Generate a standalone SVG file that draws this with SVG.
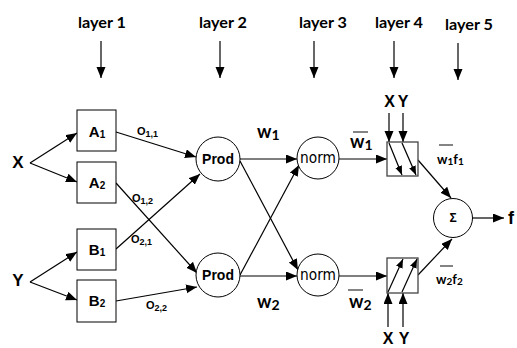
<svg xmlns="http://www.w3.org/2000/svg" width="517" height="348" viewBox="0 0 517 348">
<defs>
<marker id="ah" markerUnits="userSpaceOnUse" markerWidth="12" markerHeight="10" refX="11" refY="4.5" orient="auto">
<path d="M0,0 L11,4.5 L0,9 z" fill="#000"/>
</marker>
<marker id="ahs" markerUnits="userSpaceOnUse" markerWidth="10" markerHeight="9" refX="9" refY="3.5" orient="auto">
<path d="M0,0 L9,3.5 L0,7 z" fill="#000"/>
</marker>
</defs>
<style>
.ln{stroke:#000;stroke-width:1.2;fill:none;marker-end:url(#ah)}
.lns{stroke:#000;stroke-width:1.2;fill:none;marker-end:url(#ahs)}
.box{fill:#fff;stroke:#000;stroke-width:1}
.box4{fill:#fff;stroke:#444;stroke-width:1.3}
.cir{fill:#fff;stroke:#000;stroke-width:1}
.lay{font-family:Lato,"Liberation Sans",sans-serif;font-weight:bold;font-size:16px;fill:#000}
.arial{font-family:"Liberation Sans",Arial,sans-serif;font-weight:bold;fill:#000}
.cal{font-family:Lato,"Liberation Sans",sans-serif;font-weight:bold;fill:#000}
.ovl{stroke:#333;stroke-width:1.2}
</style>
<rect width="517" height="348" fill="#fff"/>

<g id="layers">
<text class="lay" x="78" y="28" textLength="48" lengthAdjust="spacingAndGlyphs">layer 1</text>
<text class="lay" x="199" y="28" textLength="48" lengthAdjust="spacingAndGlyphs">layer 2</text>
<text class="lay" x="299" y="28" textLength="48" lengthAdjust="spacingAndGlyphs">layer 3</text>
<text class="lay" x="375" y="28" textLength="48" lengthAdjust="spacingAndGlyphs">layer 4</text>
<text class="lay" x="445" y="30" textLength="48" lengthAdjust="spacingAndGlyphs">layer 5</text>
<line class="ln" x1="101" y1="41" x2="101" y2="78"/>
<line class="ln" x1="220" y1="41" x2="220" y2="78"/>
<line class="ln" x1="314" y1="41" x2="314" y2="78"/>
<line class="ln" x1="394" y1="41" x2="394" y2="78"/>
<line class="ln" x1="458" y1="43" x2="458" y2="80"/>
</g>

<g id="connectors">
<line class="ln" x1="30" y1="163" x2="77" y2="133"/>
<line class="ln" x1="30" y1="163" x2="77" y2="182"/>
<line class="ln" x1="30" y1="282" x2="77" y2="252"/>
<line class="ln" x1="30" y1="282" x2="77" y2="300"/>
<line class="ln" x1="116" y1="132" x2="196" y2="157"/>
<line class="ln" x1="116" y1="183" x2="197" y2="273"/>
<line class="ln" x1="116" y1="249" x2="200" y2="174"/>
<line class="ln" x1="116" y1="301" x2="197" y2="287"/>
<line class="ln" x1="240" y1="159" x2="297" y2="159"/>
<line class="ln" x1="240" y1="161" x2="298" y2="270"/>
<line class="ln" x1="240" y1="275" x2="299" y2="165"/>
<line class="ln" x1="240" y1="276" x2="297" y2="276"/>
<line class="ln" x1="339" y1="159" x2="387" y2="159"/>
<line class="ln" x1="339" y1="276" x2="387" y2="276"/>
<line class="ln" x1="389" y1="113" x2="389" y2="142"/>
<line class="ln" x1="403" y1="113" x2="403" y2="142"/>
<line class="ln" x1="388" y1="327" x2="388" y2="293"/>
<line class="ln" x1="403" y1="327" x2="403" y2="293"/>
<line class="ln" x1="418" y1="160" x2="451" y2="198"/>
<line class="ln" x1="418" y1="275" x2="452" y2="239"/>
<line class="ln" x1="472" y1="218" x2="504" y2="218"/>
</g>

<g id="inX"><text class="arial" x="18" y="168" font-size="17" text-anchor="middle">X</text></g>
<g id="inY"><text class="arial" x="18" y="286" font-size="17" text-anchor="middle">Y</text></g>

<g id="A1"><rect class="box" x="77" y="110" width="39" height="41"/>
<text class="arial" x="97" y="137" font-size="15" text-anchor="middle">A<tspan font-size="10" dy="1">1</tspan></text></g>
<g id="A2"><rect class="box" x="77" y="162" width="39" height="41"/>
<text class="arial" x="97" y="188" font-size="15" text-anchor="middle">A<tspan font-size="10" dy="1">2</tspan></text></g>
<g id="B1"><rect class="box" x="77" y="229" width="39" height="41"/>
<text class="arial" x="97" y="255" font-size="15" text-anchor="middle">B<tspan font-size="10" dy="1">1</tspan></text></g>
<g id="B2"><rect class="box" x="77" y="280" width="39" height="42"/>
<text class="arial" x="97" y="306" font-size="15" text-anchor="middle">B<tspan font-size="10" dy="1">2</tspan></text></g>

<g id="prod1"><circle class="cir" cx="218" cy="159" r="22"/>
<text class="arial" x="218" y="164" font-size="14" text-anchor="middle">Prod</text></g>
<g id="prod2"><circle class="cir" cx="218" cy="275" r="22"/>
<text class="arial" x="218" y="280" font-size="14" text-anchor="middle">Prod</text></g>

<g id="norm1"><circle class="cir" cx="318" cy="158" r="21"/>
<text x="318" y="163" font-family="DejaVu Sans, sans-serif" font-size="15" text-anchor="middle" textLength="36" lengthAdjust="spacingAndGlyphs">norm</text></g>
<g id="norm2"><circle class="cir" cx="318" cy="275" r="21"/>
<text x="318" y="280" font-family="DejaVu Sans, sans-serif" font-size="15" text-anchor="middle" textLength="36" lengthAdjust="spacingAndGlyphs">norm</text></g>

<g id="L4a"><rect class="box4" x="387" y="142" width="31" height="34"/>
<line class="lns" x1="389" y1="143" x2="402" y2="175"/>
<line class="lns" x1="402" y1="143" x2="416" y2="175"/>
<text class="arial" x="389.5" y="107" font-size="16" text-anchor="middle">X</text>
<text class="arial" x="403" y="107" font-size="16" text-anchor="middle">Y</text></g>
<g id="L4b"><rect class="box4" x="387" y="258" width="31" height="35"/>
<line class="lns" x1="388" y1="292" x2="403" y2="259"/>
<line class="lns" x1="402" y1="292" x2="417" y2="259"/>
<text class="arial" x="388" y="344" font-size="16" text-anchor="middle">X</text>
<text class="arial" x="404" y="344" font-size="16" text-anchor="middle">Y</text></g>

<g id="sum"><circle class="cir" cx="453" cy="218" r="19.5"/>
<text class="arial" x="453" y="222" font-size="12" text-anchor="middle">Σ</text></g>
<g id="out"><text class="arial" x="508" y="224" font-size="18">f</text></g>

<g id="labels">
<text class="arial" x="137" y="135" font-size="11">O<tspan font-size="9" dy="1.5">1,1</tspan></text>
<text class="arial" x="132" y="202" font-size="11">O<tspan font-size="9" dy="1.5">1,2</tspan></text>
<text class="arial" x="131" y="243" font-size="11">O<tspan font-size="9" dy="1.5">2,1</tspan></text>
<text class="arial" x="146" y="309" font-size="11">O<tspan font-size="9" dy="1.5">2,2</tspan></text>
<text class="cal" x="257" y="138" font-size="18">w<tspan font-size="14" dy="2">1</tspan></text>
<text class="cal" x="257" y="308" font-size="18">w<tspan font-size="14" dy="2">2</tspan></text>
<line class="ovl" x1="353" y1="132" x2="368" y2="132"/>
<text class="cal" x="350" y="148" font-size="18">w<tspan font-size="14" dy="2">1</tspan></text>
<line class="ovl" x1="348" y1="290" x2="363" y2="290"/>
<text class="cal" x="349" y="308" font-size="18">w<tspan font-size="14" dy="2">2</tspan></text>
<line class="ovl" x1="439" y1="145" x2="453" y2="145"/>
<text class="cal" x="437" y="164" font-size="13">w<tspan font-size="10" dy="1">1</tspan><tspan dy="-1">f</tspan><tspan font-size="10" dy="1">1</tspan></text>
<line class="ovl" x1="440" y1="266" x2="453" y2="266"/>
<text class="cal" x="436" y="284" font-size="13">w<tspan font-size="10" dy="1">2</tspan><tspan dy="-1">f</tspan><tspan font-size="10" dy="1">2</tspan></text>
</g>
</svg>
